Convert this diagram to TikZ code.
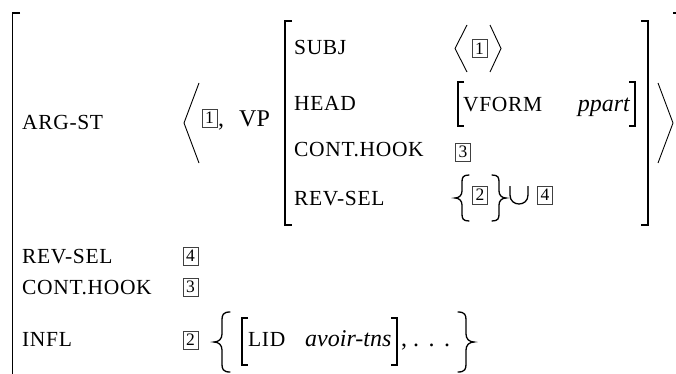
\documentclass[tikz,border=0pt]{standalone}
\usepackage{fontspec}
\setmainfont{Liberation Serif}
\newfontfamily\labfam[LetterSpace=3]{Liberation Serif}
\newcommand\BrL[4]{% tip x, centre y, width (negative = right brace), half height
  \draw[brc] ({#1+(#3)},{#2-#4})
    .. controls ({#1+0.55*(#3)},{#2-#4}) and ({#1+0.5*(#3)},{#2-#4+0.2*abs(#3)}) .. ({#1+0.5*(#3)},{#2-#4+0.5*abs(#3)})
    -- ({#1+0.5*(#3)},{#2-0.5*abs(#3)})
    .. controls ({#1+0.5*(#3)},{#2-0.2*abs(#3)}) and ({#1+0.3*(#3)},{#2}) .. ({#1},{#2})
    .. controls ({#1+0.3*(#3)},{#2}) and ({#1+0.5*(#3)},{#2+0.2*abs(#3)}) .. ({#1+0.5*(#3)},{#2+0.5*abs(#3)})
    -- ({#1+0.5*(#3)},{#2+#4-0.5*abs(#3)})
    .. controls ({#1+0.5*(#3)},{#2+#4-0.2*abs(#3)}) and ({#1+0.55*(#3)},{#2+#4}) .. ({#1+(#3)},{#2+#4});}
\begin{document}
\begin{tikzpicture}[x=1pt,y=-1pt,
  lab/.style={font=\labfam\fontsize{21.5}{24}\selectfont, anchor=base west, inner sep=0pt},
  txt/.style={font=\fontsize{24}{28}\selectfont, anchor=base west, inner sep=0pt},
  itx/.style={anchor=base west, inner sep=0pt, font=\fontsize{24}{28}\selectfont\itshape},
  tag/.style={draw=black!75, line width=0.6pt, inner sep=0pt, minimum width=15pt, minimum height=18pt, font=\fontsize{17.5}{17.5}\selectfont},
  brk/.style={line width=1.4pt},
  ang/.style={line width=0.9pt},
  brc/.style={line width=1.3pt, line cap=round}]
\path[use as bounding box] (0,0) rectangle (676,374);
% outer matrix brackets
\begin{scope}
  \clip (0,0) rectangle (676,374);
  \coordinate (oTL) at (20,13);
  \coordinate (oTR) at (673,13);
  \draw[brk] (oTL) -- (12.5,13) -- (12.5,380);
  \draw[brk] (oTR) -- (680,13) -- (680,380);
\end{scope}
% ARG-ST row
\node[lab] (argst) at (22,130) {ARG-ST};
\draw[ang] (199,83) -- (184,123) -- (199,163);
\node[tag] (t1a) at (209.5,118) {1};
\node[txt] (comma1) at (218,127) {,};
\node[txt] (vp) at (239,127) {VP};
\draw[ang] (658,83) -- (673,123) -- (658,163);
% inner matrix brackets
\draw[brk] (292,21) -- (285,21) -- (285,225) -- (292,225);
\draw[brk] (641,21) -- (648,21) -- (648,225) -- (641,225);
% SUBJ
\node[lab] (subj) at (294,55) {SUBJ};
\draw[ang] (467,25) -- (455,48.5) -- (467,72);
\node[tag] (t1b) at (479.5,48.5) {1};
\draw[ang] (490,25) -- (501,48.5) -- (490,72);
% HEAD
\node[lab] (head) at (294,111) {HEAD};
\draw[brk] (464,82) -- (458,82) -- (458,126) -- (464,126);
\node[lab] (vform) at (463,112) {VFORM};
\node[itx, anchor=base east] (ppart) at (630,112) {ppart};
\draw[brk] (629,82) -- (635,82) -- (635,126) -- (629,126);
% CONT.HOOK inner
\node[lab] (chook) at (294,157) {CONT.HOOK};
\node[tag] (t3a) at (463,152) {3};
% REV-SEL inner
\node[lab] (revsel) at (294,205) {REV-SEL};
\BrL{455}{198}{14}{23}
\node[tag] (t2a) at (480,195) {2};
\BrL{506}{198}{-14}{23}
\draw[line width=1.3pt] (510,186) -- (510,195) .. controls (510,207) and (528,207) .. (528,195) -- (528,186);
\node[tag] (t4a) at (545,195) {4};
% outer rows
\node[lab] (revsel2) at (22,263) {REV-SEL};
\node[tag] (t4b) at (190.5,256) {4};
\node[lab] (chook2) at (22,294) {CONT.HOOK};
\node[tag] (t3b) at (190.5,287) {3};
\node[lab] (infl) at (22,346) {INFL};
\node[tag] (t2b) at (190.5,340) {2};
\BrL{214}{342}{16}{30}
\draw[brk] (248,318) -- (242,318) -- (242,365) -- (248,365);
\node[lab] (lid) at (248,346) {LID};
\node[itx] (avoir) at (305,346) {avoir-tns};
\draw[brk] (391,318) -- (397,318) -- (397,365) -- (391,365);
\node[txt] (comma2) at (401,346) {,};
\node[txt] (dots) at (413,346) {.\hspace{9.5pt}.\hspace{9.5pt}.};
\BrL{474}{342}{-16}{30}
\end{tikzpicture}
\end{document}
